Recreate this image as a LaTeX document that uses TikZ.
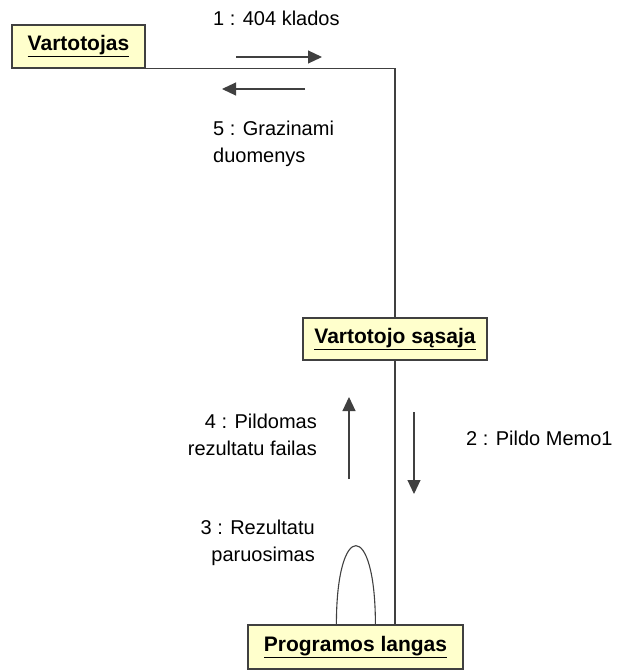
\documentclass[tikz,border=0pt]{standalone}
\usepackage{fontspec}
\setmainfont{Liberation Sans}
\usetikzlibrary{arrows.meta,calc}
\definecolor{boxfill}{HTML}{FFFFCC}
\definecolor{ink}{HTML}{404040}
\tikzset{
  obj/.style={draw=ink, line width=1.2pt, fill=boxfill, inner sep=0pt,
    font=\fontsize{21}{24}\selectfont\bfseries},
  link/.style={draw=ink, line width=1.1pt},
  msg/.style={draw=ink, line width=1.1pt, -{Triangle[length=14pt,width=13pt]}},
  lbl/.style={inner sep=0pt, font=\fontsize{20}{27}\selectfont, text=black}
}
\begin{document}
\begin{tikzpicture}[x=1pt,y=-1pt]
\useasboundingbox (0,0) rectangle (624,670);
% objects
\node[obj, minimum width=133pt, minimum height=43pt] (v) at (78.5,46.5) {\underline{Vartotojas}};
\node[obj, minimum width=184pt, minimum height=42pt] (vs) at (395,339) {\underline{Vartotojo sąsaja}};
\node[obj, minimum width=215pt, minimum height=44pt] (pl) at (355.5,647) {\underline{Programos langas}};
% links
\coordinate (corner) at (vs.north |- v.south east);
\draw[link] (v.south east) -- (corner) -- (vs.north);
\draw[link] (vs.south) -- (vs.south |- pl.north);
\coordinate (la) at ($(pl.north west)+(89,0)$);
\coordinate (lb) at ($(pl.north west)+(128,0)$);
\draw[link] (la) .. controls ($(la)+(0,-105)$) and ($(lb)+(0,-105)$) .. (lb);
% message arrows
\coordinate (m1a) at (236,57); \coordinate (m1b) at (322,57);
\draw[msg] (m1a) -- (m1b);
\coordinate (m5a) at (305,89); \coordinate (m5b) at (222,89);
\draw[msg] (m5a) -- (m5b);
\coordinate (m4a) at (349,479); \coordinate (m4b) at (349,397);
\draw[msg] (m4a) -- (m4b);
\coordinate (m2a) at (414,412); \coordinate (m2b) at (414,494);
\draw[msg] (m2a) -- (m2b);
% labels
\node[lbl, anchor=west] (t1) at (213,18) {1 : 404 klados};
\node[lbl, anchor=west, align=left] (t5) at (213,143.5) {5 : Grazinami\\duomenys};
\node[lbl, anchor=east, align=right] (t4) at (317,435) {4 : Pildomas\\rezultatu failas};
\node[lbl, anchor=west] (t2) at (466,438) {2 : Pildo Memo1};
\node[lbl, anchor=east, align=right] (t3) at (315,543) {3 : Rezultatu\\paruosimas};
\end{tikzpicture}
\end{document}
